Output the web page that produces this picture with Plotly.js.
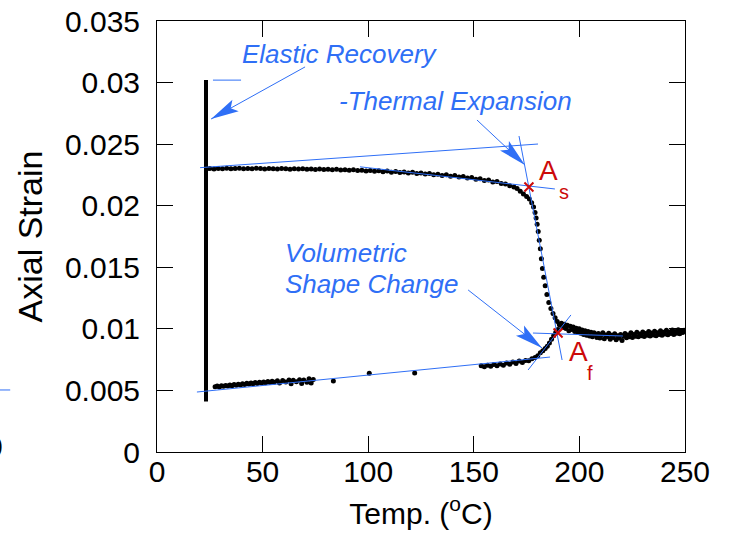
<!DOCTYPE html>
<html>
<head>
<meta charset="utf-8">
<script src="https://cdn.plot.ly/plotly-3.0.1.min.js"></script>
<style>html,body{margin:0;padding:0;background:#fff;}#chart{width:734px;height:541px;}</style>
</head>
<body>
<div id="chart"></div>
<script>
// ---- data ----
const recoveryX = [23.2, 23.2];
const recoveryY = [0.0041, 0.0302];

const upperX = [23.5,25,27,29,31,33,35,37,39,41,43,45,47,49,51,53,55,57,59,61,63,65,67,69,71,73,75,77,79,81,83,85,87,89,91,93,95,97,99,101,103,105,107,109,111,113,115,117,119,121,123,125,127,129,131,133,135,137,139,141,143,145,147,149,151,153,155,157,159,161,163,165,167,169,170.5,172,173.5,175,176.3,177.4,178.3,179,179.5,180,180.5,181,181.5,182,182.5,183.1,183.8,184.6,185.5,186.5,187.5,188.5,189.5,190.5];
const upperY = [0.02300,0.02302,0.02299,0.02303,0.02301,0.02304,0.02300,0.02302,0.02305,0.02301,0.02303,0.02300,0.02304,0.02302,0.02299,0.02303,0.02301,0.02298,0.02302,0.02300,0.02297,0.02301,0.02298,0.02300,0.02296,0.02299,0.02295,0.02298,0.02294,0.02297,0.02292,0.02296,0.02290,0.02293,0.02288,0.02292,0.02285,0.02289,0.02282,0.02286,0.02279,0.02284,0.02276,0.02281,0.02272,0.02278,0.02270,0.02274,0.02266,0.02271,0.02262,0.02266,0.02257,0.02262,0.02252,0.02256,0.02246,0.02251,0.02240,0.02245,0.02233,0.02237,0.02225,0.02229,0.02215,0.02219,0.02205,0.02208,0.02193,0.02196,0.02180,0.02176,0.02162,0.02152,0.02140,0.02118,0.02096,0.02075,0.02055,0.02025,0.01990,0.01945,0.01900,0.01850,0.01790,0.01720,0.01650,0.01570,0.01490,0.01420,0.01350,0.01280,0.01215,0.01165,0.01125,0.01090,0.01060,0.01035];

const lowerX = [27.5,28.5,29.5,30.5,31.5,32.5,33.5,34.5,35.5,36.5,37.5,38.5,39.5,40.5,41.5,42.5,43.5,44.5,45.5,46.5,47.5,48.5,49.5,50.5,51.5,52.5,53.5,54.5,55.5,57,58,59.5,61,62.5,63.5,64.5,66,67.5,68.5,69.5,71,72,73,74,83.5,100.5,122,153.5,155,156.5,158,159.5,161,162.5,164,165.5,167,168.5,170,171.5,173,174.5,176,177.5,179,180.3,181.5,182.7,183.8,184.8,185.8,186.8,187.8,188.8,189.8];
const lowerY = [0.00530,0.00535,0.00528,0.00538,0.00533,0.00541,0.00536,0.00545,0.00539,0.00548,0.00542,0.00551,0.00545,0.00555,0.00548,0.00558,0.00552,0.00561,0.00555,0.00564,0.00557,0.00566,0.00560,0.00569,0.00562,0.00572,0.00565,0.00575,0.00566,0.00578,0.00560,0.00580,0.00568,0.00584,0.00555,0.00582,0.00570,0.00587,0.00556,0.00585,0.00566,0.00594,0.00560,0.00588,0.00576,0.00640,0.00641,0.00700,0.00692,0.00705,0.00696,0.00710,0.00700,0.00714,0.00704,0.00722,0.00712,0.00730,0.00718,0.00738,0.00726,0.00744,0.00740,0.00758,0.00768,0.00782,0.00805,0.00822,0.00840,0.00858,0.00885,0.00915,0.00945,0.00972,0.00995];

const plateauX = [190.8,191.5,192.2,192.9,193.6,194.3,195,195.7,196.4,197.1,197.8,198.5,199.2,199.9,200.6,201.3,202,202.7,203.4,204.1,204.8,205.5,206.2,206.9,207.6,208.3,209,209.7,210.4,211.1,211.8,212.5,213.2,213.9,214.6,215.3,216,216.7,217.4,218.1,218.8,219.5,220.2,220.9,221.6,222.3,223,223.7,224.4,225.1,225.8,226.5,227.2,227.9,228.6,229.3,230,230.7,231.4,232.1,232.8,233.5,234.2,234.9,235.6,236.3,237,237.7,238.4,239.1,239.8,240.5,241.2,241.9,242.6,243.3,244,244.7,245.4,246.1,246.8,247.5,248.2,248.9,249.6];
const plateauY = [0.01030,0.01045,0.01012,0.01038,0.01002,0.01030,0.00985,0.01022,0.00995,0.01015,0.00978,0.01005,0.00972,0.01000,0.00965,0.00990,0.00955,0.00985,0.00948,0.00978,0.00942,0.00972,0.00935,0.00968,0.00958,0.00930,0.00962,0.00925,0.00952,0.00968,0.00920,0.00950,0.00938,0.00965,0.00915,0.00948,0.00930,0.00960,0.00912,0.00945,0.00925,0.00955,0.00905,0.00940,0.00962,0.00928,0.00950,0.00935,0.00968,0.00930,0.00955,0.00940,0.00972,0.00935,0.00958,0.00945,0.00975,0.00938,0.00962,0.00948,0.00978,0.00942,0.00966,0.00950,0.00980,0.00945,0.00968,0.00955,0.00985,0.00948,0.00972,0.00958,0.00988,0.00952,0.00975,0.00962,0.00990,0.00955,0.00978,0.00965,0.00992,0.00960,0.00982,0.00970,0.00988];

// fitted construction lines: [x0, x1], [y0, y1]
const fitUpperLongX = [20.4, 180.4], fitUpperLongY = [0.02309, 0.02501];
const fitUpperX = [96.1, 188.4],     fitUpperY = [0.02316, 0.02136];
const fitSteepX = [171.4, 191.8],    fitSteepY = [0.02566, 0.00747];
const fitRiseX = [175.7, 196.0],     fitRiseY = [0.00666, 0.01113];
const fitPlatX = [178.0, 220.6],     fitPlatY = [0.00966, 0.00942];
const fitLowerX = [18.9, 186.1],     fitLowerY = [0.00487, 0.00771];
const recMarkX = [26.5, 39.8],       recMarkY = [0.0302, 0.0302];

// transformation points A_s, A_f
const transX = [176.1, 189.9];
const transY = [0.02152, 0.00966];

// arrows: [tailX, tailY, tipX, tipY]
const arrows = [
  [70.1, 0.03127, 25.6, 0.02704],
  [151.5, 0.02696, 174.2, 0.02331],
  [147.3, 0.01316, 182.3, 0.00845]
];

// ---- styling / geometry ----
const BLUE = '#2f6ff6';
const RED = '#cc0a0a';
const FONT = 'Liberation Sans, Arial, Helvetica, sans-serif';
const L = 157, R = 685, T = 21, B = 452;
const XMAX = 250, YMAX = 0.035;
function toPx(x, y) { return [L + x / XMAX * (R - L), B - y / YMAX * (B - T)]; }
function toData(px, py) { return [(px - L) / (R - L) * XMAX, (B - py) / (B - T) * YMAX]; }

function line(xs, ys) {
  return {x: xs, y: ys, mode: 'lines', type: 'scatter', line: {color: BLUE, width: 1}, hoverinfo: 'skip', showlegend: false};
}
function dots(xs, ys, s) {
  return {x: xs, y: ys, mode: 'markers', type: 'scatter', marker: {color: '#000', size: s || 5}, showlegend: false};
}

const traces = [
  {x: recoveryX, y: recoveryY, mode: 'lines', type: 'scatter', line: {color: '#000', width: 4}, showlegend: false},
  dots(upperX, upperY, 5),
  dots(lowerX, lowerY, 5),
  dots(plateauX, plateauY, 5),
  line(fitUpperLongX, fitUpperLongY),
  line(fitUpperX, fitUpperY),
  line(fitSteepX, fitSteepY),
  line(fitRiseX, fitRiseY),
  line(fitPlatX, fitPlatY),
  line(fitLowerX, fitLowerY),
  line(recMarkX, recMarkY),
  {x: transX, y: transY, mode: 'markers', type: 'scatter',
   marker: {symbol: 'x-thin-open', size: 9, color: RED, line: {color: RED, width: 2}}, showlegend: false}
];

const shapes = [];
const annotations = [];
arrows.forEach(a => {
  traces.push(line([a[0], a[2]], [a[1], a[3]]));
  const tail = toPx(a[0], a[1]), tip = toPx(a[2], a[3]);
  const dx = tip[0] - tail[0], dy = tip[1] - tail[1], len = Math.hypot(dx, dy);
  const ux = dx / len, uy = dy / len, nx = -uy, ny = ux;
  const hl = 28, hw = 6.5;
  const bx = tip[0] - ux * hl, by = tip[1] - uy * hl;
  const c1 = toData(bx + nx * hw, by + ny * hw);
  const c2 = toData(bx - nx * hw, by - ny * hw);
  const nt = toData(tip[0] - ux * hl * 0.8, tip[1] - uy * hl * 0.8);
  shapes.push({type: 'path', xref: 'x', yref: 'y',
    path: `M${a[2]},${a[3]} L${c1[0]},${c1[1]} L${nt[0]},${nt[1]} L${c2[0]},${c2[1]} Z`,
    fillcolor: BLUE, line: {width: 0}});
});

function txt(x, y, t, opts) {
  return Object.assign({x: x, y: y, xref: 'x', yref: 'y', text: t, showarrow: false,
    font: {family: FONT, size: 26, color: BLUE, style: 'italic'}}, opts || {});
}
annotations.push(txt(86.6, 0.03232, 'Elastic Recovery'));
annotations.push(txt(141.3, 0.0285, '-Thermal Expansion'));
annotations.push(txt(59.7, 0.01612, 'Volumetric', {xanchor: 'left'}));
annotations.push(txt(59.7, 0.01366, 'Shape Change', {xanchor: 'left'}));
annotations.push(txt(180.0, 0.02282, 'A', {xanchor: 'left', font: {family: FONT, size: 28, color: RED}}));
annotations.push(txt(189.2, 0.02113, 's', {xanchor: 'left', font: {family: FONT, size: 20, color: RED}}));
annotations.push(txt(194.3, 0.00820, 'A', {xanchor: 'left', font: {family: FONT, size: 28, color: RED}}));
annotations.push(txt(202.5, 0.00640, 'f', {xanchor: 'left', font: {family: FONT, size: 20, color: RED}}));
// cut-off remnants of a neighbouring figure at the left edge
annotations.push({x: -0.2875, y: -0.030, xref: 'paper', yref: 'paper', xanchor: 'right', text: '0', showarrow: false,
  font: {family: FONT, size: 30, color: '#000'}});
shapes.push({type: 'line', xref: 'paper', yref: 'paper', x0: -0.3, x1: -0.278, y0: 0.1439, y1: 0.1439,
  line: {color: BLUE, width: 1}});

const axisCommon = {
  showgrid: false, zeroline: false, showline: true, linecolor: '#000', linewidth: 1, mirror: 'ticks',
  ticks: 'inside', ticklen: 16, tickwidth: 1, tickcolor: '#000',
  tickfont: {family: FONT, size: 30, color: '#000'}
};

const layout = {
  width: 734, height: 541,
  margin: {l: L, r: 734 - R, t: T, b: 541 - B, pad: 0},
  paper_bgcolor: '#fff', plot_bgcolor: '#fff',
  showlegend: false,
  xaxis: Object.assign({}, axisCommon, {range: [0, 250], dtick: 50, tick0: 0, ticklabelstandoff: -7,
    title: {text: 'Temp. (<sup>o</sup>C)', font: {family: FONT, size: 30, color: '#000'}, standoff: 15}}),
  yaxis: Object.assign({}, axisCommon, {range: [0, 0.035], dtick: 0.005, tick0: 0, ticklabelstandoff: 10,
    title: {text: 'Axial Strain', font: {family: FONT, size: 34, color: '#000'}, standoff: 12}}),
  shapes: shapes,
  annotations: annotations
};

Plotly.newPlot('chart', traces, layout, {displayModeBar: false, staticPlot: true});
</script>
</body>
</html>
